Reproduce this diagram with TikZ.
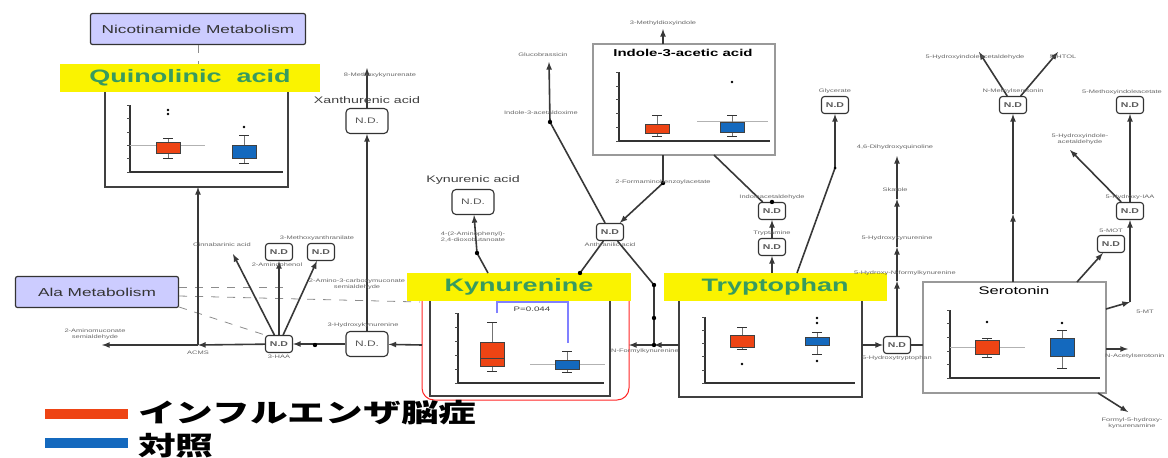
\documentclass[tikz,border=0pt]{standalone}
\usepackage{fontspec}
\setmainfont{Liberation Sans}[FakeStretch=1.5]
\newfontfamily\cjk{Noto Sans CJK JP}[FakeStretch=1.45]
\usetikzlibrary{positioning}

\definecolor{jaune}{RGB}{250,243,0}
\definecolor{vertlbl}{RGB}{55,155,95}
\definecolor{lavande}{RGB}{204,204,255}
\definecolor{rougebx}{RGB}{238,68,20}
\definecolor{bleubx}{RGB}{20,105,190}

% boite a moustaches : x, moustache haut, boite haut, boite bas, moustache bas, couleur
\newcommand{\bxp}[6]{%
  \draw[black!55] (#1,#2) -- (#1,#5);
  \draw[black!80, line width=1pt] (#1-5,#2) -- (#1+5,#2) (#1-5,#5) -- (#1+5,#5);
  \draw[fill=#6, draw=black!75, line width=0.8pt] (#1-12,#3) rectangle (#1+12,#4);}
% axes : x axe, y haut, y bas, x fin
\newcommand{\axesbx}[4]{%
  \draw[black!80, line width=1.2pt] (#1,#2) -- (#1,#3) -- (#4,#3);
  \foreach \t in {0,...,5} \draw[black!70] (#1-3,{#2+\t*(#3-#2)/5}) -- (#1,{#2+\t*(#3-#2)/5});}

\begin{document}
\begin{tikzpicture}[x=1pt, y=-1pt,
  nd/.style={draw=black!80, line width=1.1pt, rounded corners=3pt, fill=white, minimum width=27pt, minimum height=17pt, inner sep=0pt, font=\fontsize{7}{7}\selectfont\bfseries, text=black!65},
  ndbig/.style={nd, minimum width=42pt, minimum height=25pt, rounded corners=4pt, font=\fontsize{8}{8}\selectfont},
  metab/.style={draw=black!80, fill=lavande, rounded corners=2pt, line width=1.2pt, minimum height=31pt, font=\fontsize{11.5}{11.5}\selectfont, text=black!80},
  titre/.style={fill=jaune, minimum height=28pt, font=\fontsize{18}{18}\selectfont\bfseries, text=vertlbl},
  lbl/.style={font=\fontsize{5}{5.5}\selectfont, text=black!60, inner sep=1pt, align=center},
  nom/.style={font=\fontsize{9.5}{9.5}\selectfont, text=black!75, inner sep=1pt},
  rxn/.style={draw=black!78, line width=1.6pt},
  fl/.style={rxn, -latex},
  cadre/.style={draw=black!75, line width=1.4pt},
  pointille/.style={draw=black!45, dash pattern=on 8pt off 8pt, line width=0.8pt}]
\useasboundingbox (0,0) rectangle (1168,458);

% metabolismes
\node[metab, minimum width=215pt] (nic) at (198,29) {Nicotinamide Metabolism};
\node[metab, minimum width=163pt] (ala) at (97,292) {Ala Metabolism};

% panneau Quinolinic acid
\draw[cadre] (105,92) -- (105,187) -- (288,187) -- (288,92);
\axesbx{130}{105}{172}{283}
\draw[black!30] (130,145) -- (205,145);
\bxp{168}{138}{142}{153}{158}{rougebx}
\bxp{244}{135}{145}{158}{163}{bleubx}
\fill (168,110) circle (1.3) (168,114) circle (1.3) (244,127) circle (1.3);

% panneau Indole-3-acetic acid
\draw[black!40, line width=1.2pt] (593,44) rectangle (775,155);
\node[font=\fontsize{10}{10}\selectfont\bfseries] (tIaa) at (683,53) {Indole-3-acetic acid};
\axesbx{619}{72}{141}{770}
\draw[black!30] (697,121) -- (768,121);
\bxp{657}{115}{124}{133}{136}{rougebx}
\bxp{732}{115}{122}{132}{136}{bleubx}
\fill (732,82) circle (1.3);

% panneau Kynurenine
\draw[red!85, line width=1pt, rounded corners=12pt] (422,298) -- (422,400) -- (629,400) -- (629,298);
\draw[cadre] (430,300) -- (430,396) -- (610,396) -- (610,300);
\axesbx{458}{313}{383}{604}
\draw[black!30] (530,364) -- (605,364);
\bxp{492}{322}{342}{366}{371}{rougebx}
\draw[black!75] (480,358) -- (504,358);
\bxp{567}{351}{360}{369}{372}{bleubx}
\draw[blue!50, line width=1.1pt] (497,313) -- (497,302) -- (568,302) -- (568,343);
\node[font=\fontsize{6.5}{6.5}\selectfont, text=black!75] (pval) at (532,309) {P=0.044};

% panneau Tryptophan
\draw[cadre] (679,300) -- (679,397) -- (862,397) -- (862,300);
\axesbx{705}{317}{383}{855}
\bxp{742}{327}{335}{347}{349}{rougebx}
\bxp{817}{332}{337}{345}{354}{bleubx}
\fill (742,364) circle (1.3) (817,318) circle (1.3) (817,323) circle (1.3) (817,361) circle (1.3);

% panneau Serotonin
\draw[black!40, line width=1.2pt] (923,282) rectangle (1106,393);
\node[font=\fontsize{11}{11}\selectfont] (tSer) at (1014,291) {Serotonin};
\axesbx{950}{310}{378}{1100}
\draw[black!30] (950,347) -- (1025,347);
\bxp{987}{338}{340}{354}{357}{rougebx}
\bxp{1062}{330}{338}{356}{368}{bleubx}
\fill (987,322) circle (1.3) (1062,323) circle (1.3);

% titres jaunes
\node[titre, minimum width=260pt] (quin) at (190,78) {Quinolinic~ acid};
\node[titre, minimum width=224pt] (kyn) at (519,287) {Kynurenine};
\node[titre, minimum width=223pt] (trp) at (775,287) {Tryptophan};

% N.D.
\node[ndbig] (ndXa) at (367,121) {N.D.};
\node[ndbig] (ndHk) at (367,344) {N.D.};
\node[ndbig] (ndKa) at (473,202) {N.D.};
\node[nd] (ndHaa) at (279,344) {N.D};
\node[nd] (ndAp) at (279,252) {N.D};
\node[nd] (ndHa) at (321,252) {N.D};
\node[nd] (ndAa) at (610,232) {N.D};
\node[nd] (ndIa) at (772,211) {N.D};
\node[nd] (ndTa) at (772,247) {N.D};
\node[nd] (ndOx) at (835,105) {N.D};
\node[nd] (ndSe) at (1013,105) {N.D};
\node[nd] (ndMi) at (1130,105) {N.D};
\node[nd] (ndHi) at (1130,211) {N.D};
\node[nd] (ndMt) at (1111,244) {N.D};
\node[nd] (ndHt) at (897,345) {N.D};

% points de jonction
\coordinate (acms) at (198,345);  \coordinate (qbot) at (198,187);
\coordinate (amsa) at (102,345);  \coordinate (hkj) at (315,345);
\coordinate (kynL) at (422,345);  \coordinate (kynR) at (629,345);
\coordinate (trpL) at (679,345);  \coordinate (trpR) at (862,345);
\coordinate (serL) at (923,345);
\coordinate (nfk) at (654,345);   \coordinate (nfk2) at (654,318);  \coordinate (nfk3) at (654,285);
\coordinate (mxk) at (367,68);    \coordinate (cin) at (233,254);
\coordinate (kynT) at (488,273);  \coordinate (kaj) at (477,253);
\coordinate (aak) at (580,273);   \coordinate (ia3) at (550,122);  \coordinate (gbr) at (549,62);
\coordinate (iaaB) at (663,155);  \coordinate (fab) at (663,183);
\coordinate (iaaT) at (663,44);   \coordinate (mdi) at (663,29);   \coordinate (iaaBR) at (714,155);
\coordinate (trpT) at (772,273);  \coordinate (trpT2) at (797,273); \coordinate (oxj) at (835,168);
\coordinate (h1) at (897,281);    \coordinate (h2) at (897,247);
\coordinate (h3) at (897,199);    \coordinate (h4) at (897,156);
\coordinate (serT) at (1013,282); \coordinate (s1) at (1013,214);
\coordinate (hial) at (979,52);   \coordinate (htol) at (1058,52);  \coordinate (hia2) at (1070,150);
\coordinate (serTR) at (1077,282); \coordinate (serR1) at (1106,309); \coordinate (mel) at (1130,302);
\coordinate (serR2) at (1106,349); \coordinate (nas) at (1128,349);
\coordinate (serBR) at (1098,393); \coordinate (fhk) at (1128,412);
\coordinate (d1) at (290,287);    \coordinate (d2) at (420,302);   \coordinate (d3) at (268,336);

% liens
\draw[pointille] (nic.south) -- (nic.south |- quin.north);
\draw[pointille] ([yshift=5pt]ala.east) -- (d1);
\draw[pointille] ([yshift=-4pt]ala.east) -- (d2);
\draw[pointille] ([yshift=-15pt]ala.east) -- (d3);
\draw[fl] (acms) -- (qbot);
\draw[fl] (ndHaa) -- (acms);
\draw[fl] (acms) -- (amsa);
\draw[fl] (ndHk) -- (ndHaa);
\draw[fl] (kynL) -- (ndHk);
\draw[fl] (ndHk) -- (ndXa);
\draw[fl] (ndXa) -- (mxk);
\draw[fl] (ndHaa) -- (cin);
\draw[fl] (ndHaa) -- (ndAp);
\draw[fl] (ndHaa) -- (ndHa);
\draw[rxn] (kynT) -- (kaj);
\draw[fl] (kaj) -- (ndKa);
\draw[rxn] (ndAa) -- (aak);
\draw[rxn] (ndAa) -- (nfk3) -- (nfk);
\draw[fl] (trpL) -- (nfk);
\draw[fl] (nfk) -- (kynR);
\draw[rxn] (ndAa) -- (ia3);
\draw[fl] (ia3) -- (gbr);
\draw[rxn] (iaaB) -- (fab);
\draw[fl] (fab) -- (ndAa);
\draw[fl] (iaaT) -- (mdi);
\draw[rxn] (iaaBR) -- (ndIa);
\draw[fl] (ndTa) -- (ndIa);
\draw[fl] (trpT) -- (ndTa);
\draw[rxn] (trpT2) -- (oxj);
\draw[fl] (oxj) -- (ndOx);
\draw[fl] (trpR) -- (ndHt);
\draw[rxn] (ndHt) -- (serL);
\draw[fl] (ndHt) -- (h1);
\draw[fl] (h1) -- (h2);
\draw[fl] (h2) -- (h3);
\draw[fl] (h3) -- (h4);
\draw[fl] (serT) -- (s1);
\draw[fl] (s1) -- (ndSe);
\draw[fl] (ndSe) -- (hial);
\draw[fl] (ndSe) -- (htol);
\draw[fl] (ndHi) -- (ndMi);
\draw[fl] (ndHi) -- (hia2);
\draw[fl] (serTR) -- (ndMt);
\draw[fl] (serR1) -- (mel);
\draw[fl] (mel) -- (ndHi);
\draw[fl] (serR2) -- (nas);
\draw[fl] (serBR) -- (fhk);
\fill (hkj) circle (2.2) (kaj) circle (2.2) (aak) circle (2.2) (nfk) circle (2.2) (nfk2) circle (2.2)
      (nfk3) circle (2.2) (ia3) circle (2.2) (fab) circle (2.2) (ndIa.north) circle (2.2) (oxj) circle (1.5);

% noms
\node[nom] (tXa) at (367,100) {Xanthurenic acid};
\node[nom] (tKa) at (473,180) {Kynurenic acid};
\node[lbl] (tMxk) at (380,75) {8-Methoxykynurenate};
\node[lbl] (tHk) at (363,325) {3-Hydroxykynurenine};
\node[lbl, below=1pt of ndHaa] (tHaa) {3-HAA};
\node[lbl] (tAcms) at (198,353) {ACMS};
\node[lbl] (tAmsa) at (95,334) {2-Aminomuconate\\semialdehyde};
\node[lbl] (tCin) at (222,245) {Cinnabarinic acid};
\node[lbl] (tMa) at (317,238) {3-Methoxyanthranilate};
\node[lbl] (tAp) at (277,265) {2-Aminophenol};
\node[lbl] (tAcs) at (357,284) {2-Amino-3-carboxymuconate\\semialdehyde};
\node[lbl] (tDob) at (473,237) {4-(2-Aminophenyl)-\\2,4-dioxobutanoate};
\node[lbl] (tGbr) at (543,55) {Glucobrassicin};
\node[lbl] (tIao) at (541,113) {Indole-3-acetaldoxime};
\node[lbl] (tFab) at (663,182) {2-Formaminobenzoylacetate};
\node[lbl, below=1pt of ndAa] (tAa) {Anthranilic acid};
\node[lbl] (tNfk) at (645,351) {N-Formylkynurenine};
\node[lbl] (tMdi) at (663,23) {3-Methyldioxyindole};
\node[lbl, above=1pt of ndIa] (tIa) {Indoleacetaldehyde};
\node[lbl, above=1pt of ndTa] (tTa) {Tryptamine};
\node[lbl, above=1pt of ndOx] (tOx) {Glycerate};
\node[lbl] (tDhq) at (895,147) {4,6-Dihydroxyquinoline};
\node[lbl] (tSk) at (895,190) {Skatole};
\node[lbl] (tHky) at (897,238) {5-Hydroxykynurenine};
\node[lbl] (tHfk) at (905,273) {5-Hydroxy-N-formylkynurenine};
\node[lbl, below=1pt of ndHt] (tHt) {5-Hydroxytryptophan};
\node[lbl, above=1pt of ndSe] (tSe) {N-Methylserotonin};
\node[lbl] (tHial) at (975,57) {5-Hydroxyindoleacetaldehyde};
\node[lbl] (tHtol) at (1063,57) {5-HTOL};
\node[lbl] (tMi) at (1122,92) {5-Methoxyindoleacetate};
\node[lbl] (tHia) at (1080,139) {5-Hydroxyindole-\\acetaldehyde};
\node[lbl, above=1pt of ndHi] (tHi) {5-Hydroxy-IAA};
\node[lbl, above=1pt of ndMt] (tMt) {5-MOT};
\node[lbl] (tMel) at (1145,312) {5-MT};
\node[lbl, anchor=west] (tNas) at (1104,356) {N-Acetylserotonin};
\node[lbl] (tFhk) at (1132,423) {Formyl-5-hydroxy-\\kynurenamine};

% legende
\node[fill=rougebx, minimum width=83pt, minimum height=10pt, inner sep=0pt] (barA) at (86,414) {};
\node[fill=bleubx, minimum width=83pt, minimum height=10pt, inner sep=0pt] (barB) at (86,443) {};
\node[anchor=west, inner sep=0pt, font=\cjk\bfseries\fontsize{26}{26}\selectfont] (lgA) at (138,413) {インフルエンザ脳症};
\node[anchor=west, inner sep=0pt, font=\cjk\bfseries\fontsize{26}{26}\selectfont] (lgB) at (138,446) {対照};
\end{tikzpicture}
\end{document}
